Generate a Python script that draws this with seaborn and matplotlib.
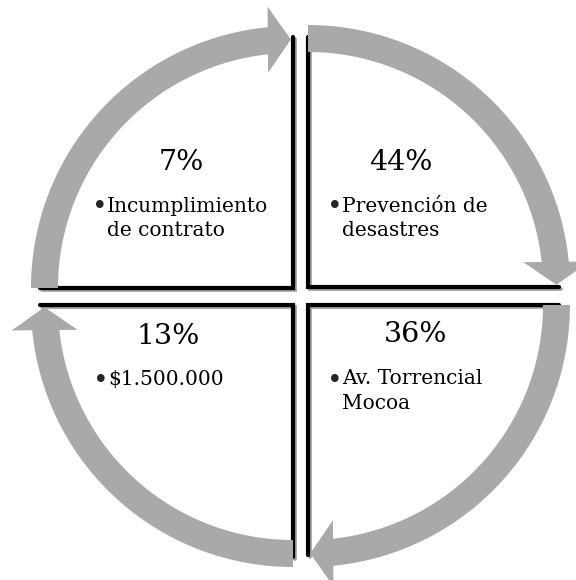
import numpy as np
import matplotlib
matplotlib.use("Agg")
import matplotlib.pyplot as plt
import seaborn as sns

# =========================
# DATA
# =========================
percentages = ["7%", "44%", "36%", "13%"]
bullet_lines = [
    ["Incumplimiento", "de contrato"],
    ["Prevención de", "desastres"],
    ["Av. Torrencial", "Mocoa"],
    ["$1.500.000"],
]

# =========================
# STYLE
# =========================
sns.set_theme(style="white")
plt.rcParams['font.family'] = ['DejaVu Serif']
arrow_color = "#A9A9A9"

fig = plt.figure(figsize=(5.76, 5.8), dpi=100)
ax = fig.add_axes([0, 0, 1, 1])
ax.set_xlim(0, 576)
ax.set_ylim(580, 0)
ax.axis('off')

# layout per quadrant: order TL, TR, BR, BL
# (corner center, start angle, tip angle), arrows run clockwise
arcs = [
    ((293, 288), 180, 90.5),
    ((308, 287), 90, 0.5),
    ((308, 305), 0, -89.5),
    ((293, 305), -90, -179.5),
]
r_in, r_out = 235, 262
r_mid = (r_in + r_out) / 2
head_half = 33
head_len = 23


def pt(c, r, a):
    t = np.radians(a)
    return c[0] + r * np.cos(t), c[1] - r * np.sin(t)


# =========================
# QUADRANT EDGES
# =========================
edges = [
    [(40, 288), (293, 288), (293, 37)],
    [(308, 37), (308, 287), (559, 287)],
    [(559, 305), (308, 305), (308, 555)],
    [(293, 557), (293, 305), (40, 305)],
]
for e in edges:
    xs, ys = zip(*e)
    ax.plot([x + 1.8 for x in xs], [y + 1.8 for y in ys], color="#9a9a9a",
            lw=2.6, solid_joinstyle='miter', zorder=1)
    ax.plot(xs, ys, color="black", lw=3.0, solid_joinstyle='miter', zorder=2)

# =========================
# CURVED ARROWS
# =========================
for c, a0, at in arcs:
    t = np.radians(at)
    tip = np.array(pt(c, r_mid, at))
    radial = np.array([np.cos(t), -np.sin(t)])
    tangent = np.array([np.sin(t), np.cos(t)])
    base = tip - tangent * head_len
    p1 = base + radial * head_half
    p2 = base - radial * head_half
    ab = at + np.degrees(head_len / r_mid) - 1.2
    ang = np.linspace(a0, ab, 80)
    outer = [pt(c, r_out, a) for a in ang]
    inner = [pt(c, r_in, a) for a in ang[::-1]]
    poly = np.array(outer + inner)
    ax.fill(poly[:, 0], poly[:, 1], color=arrow_color, lw=0, zorder=3)
    tri = np.array([p1, tip, p2])
    ax.fill(tri[:, 0], tri[:, 1], color=arrow_color, lw=0, zorder=3)

# =========================
# TEXT
# =========================
pct_pos = [(181, 162), (401, 162), (416, 335), (168, 337)]
bullet_pos = [(96, 206), (331, 206), (331, 379), (97, 379)]
line_gap = 24.5

for i in range(4):
    ax.text(pct_pos[i][0], pct_pos[i][1], percentages[i], fontsize=20.5,
            ha='center', va='center', color='black', zorder=5)
    bx, by = bullet_pos[i]
    ax.text(bx + 4, by + 1, "•", fontsize=19, ha='center', va='center', zorder=5)
    for j, line in enumerate(bullet_lines[i]):
        ax.text(bx + 11, by + j * line_gap, line, fontsize=14.5,
                ha='left', va='center', color='black', zorder=5)

fig.savefig("out.png", dpi=100)
